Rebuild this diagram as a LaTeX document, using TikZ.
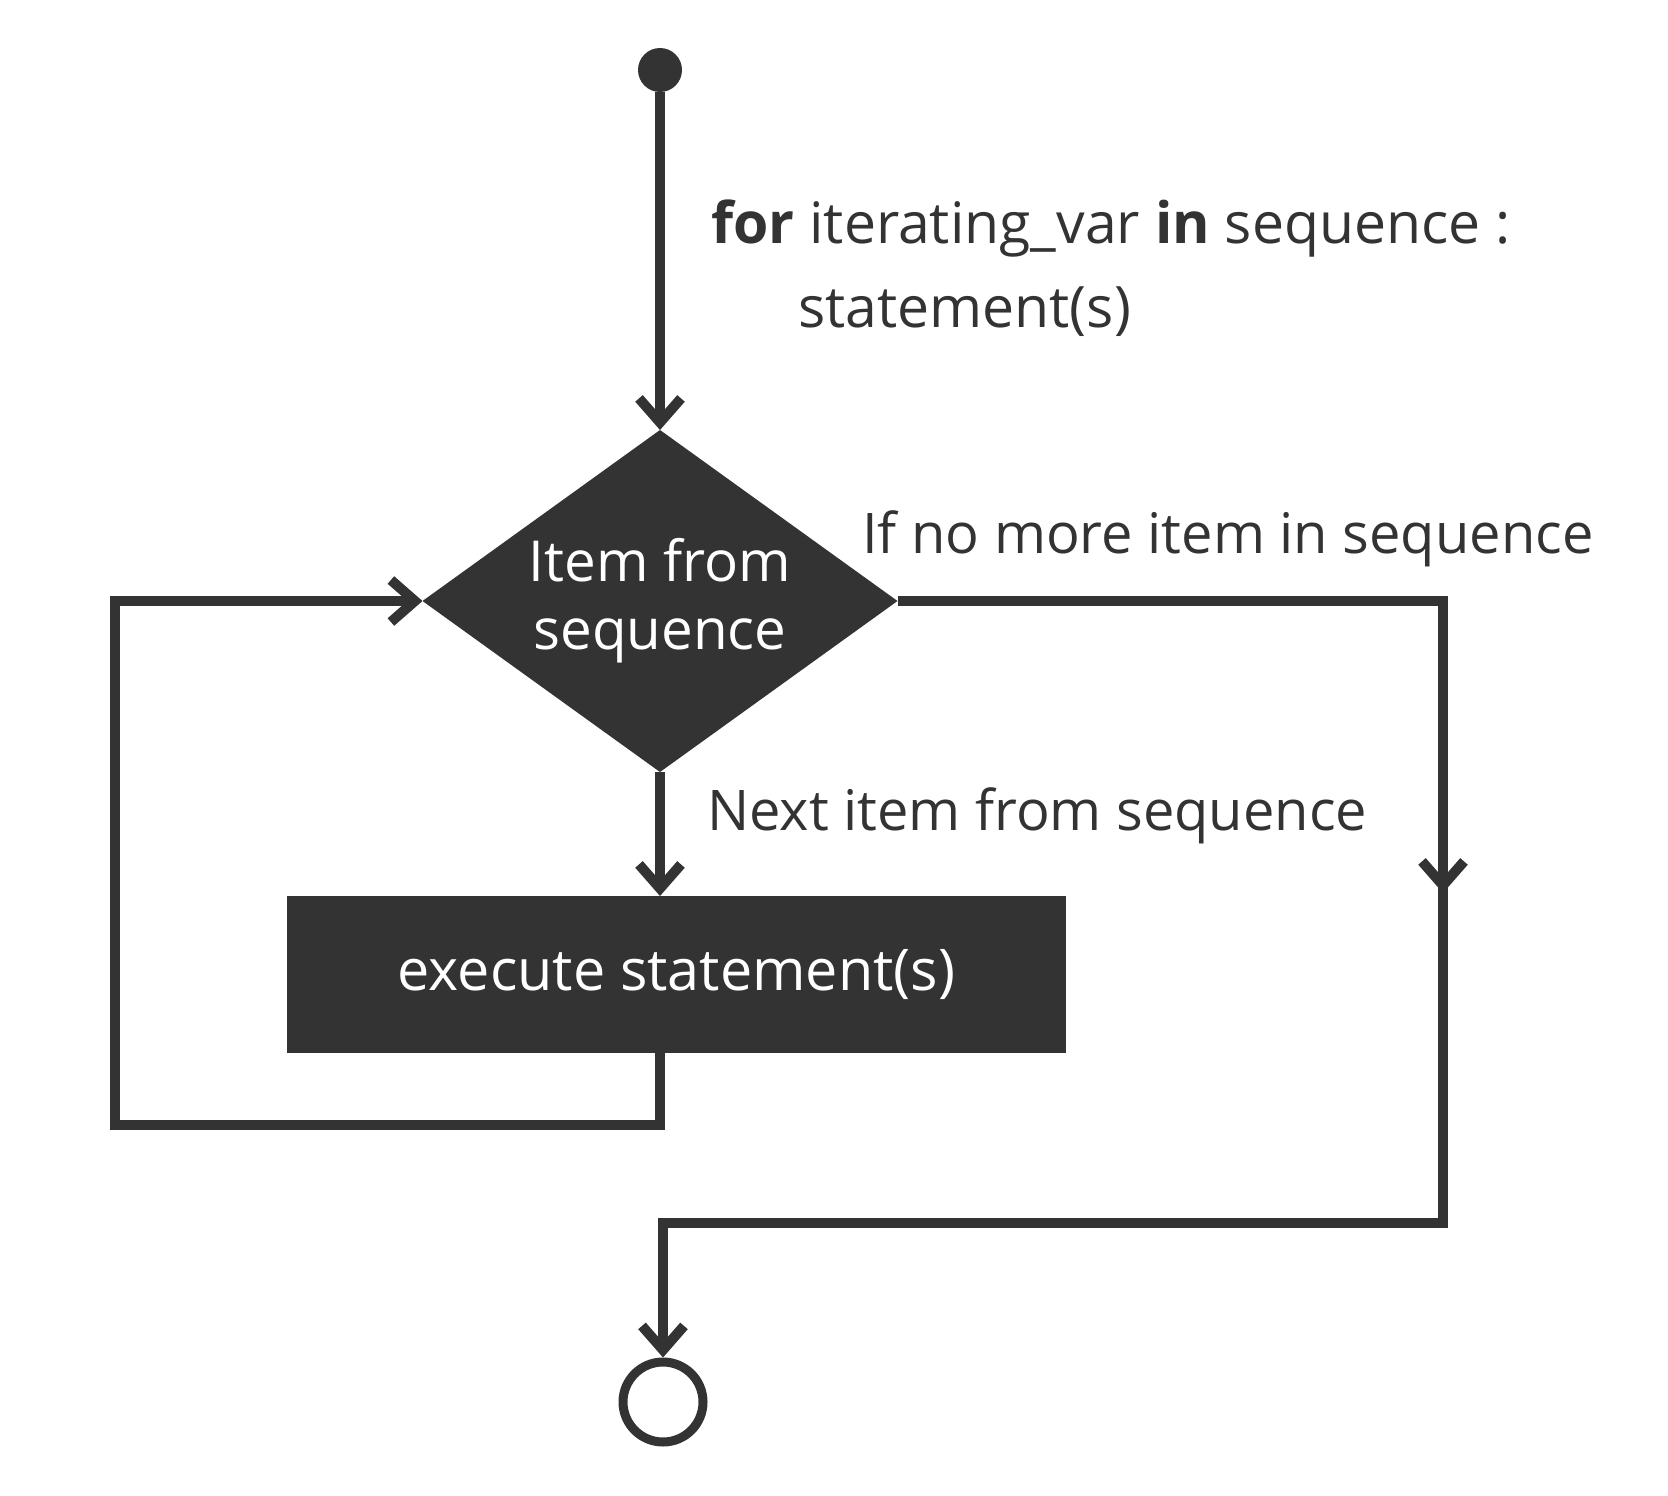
\documentclass[tikz,border=0pt]{standalone}
\usepackage{fontspec}
\setmainfont{Open Sans}
\usetikzlibrary{shapes.geometric,arrows.meta}
\definecolor{ink}{HTML}{333333}
\begin{document}
\begin{tikzpicture}[x=1pt,y=-1pt,
  txt/.style={font=\fontsize{56}{70}\selectfont},
  codetxt/.style={font=\fontsize{57.1}{70}\selectfont},
  flow/.style={draw=ink, line width=10pt, line join=miter,
    -{Straight Barb[length=24pt,width=42pt]}},
  plain/.style={draw=ink, line width=10pt, line join=miter},
  lbl/.style={txt, text=ink, inner sep=0pt, anchor=base west},
  filled/.style={fill=ink, inner sep=0pt, outer sep=0pt},
]
\useasboundingbox (0,0) rectangle (1668,1496);

\node[circle, filled, minimum size=44pt] (start) at (660,70) {};
\node[diamond, filled, aspect=1.39, minimum width=475pt, minimum height=342pt,
      text=white, align=center, font=\fontsize{56.5}{71}\selectfont] (dec) at (660,601) {\raisebox{-3pt}{Item from}\\sequence};
\node[rectangle, filled, minimum width=779pt, minimum height=157pt,
      text=white, font=\fontsize{57.5}{70}\selectfont] (exec) at (676.5,974.5) {execute statement(s)};
\node[circle, draw=ink, line width=9pt, minimum size=80pt, inner sep=0pt] (stop) at (663,1402) {};

\node[lbl, codetxt] (code1) at (711,243) {\textbf{for} iterating\_var \textbf{in} sequence :};
\node[lbl, codetxt] (code2) at (798,327) {statement(s)};
\node[lbl] (nomore) at (862,553) {If no more item in sequence};
\node[lbl] (next) at (707,830) {Next item from sequence};

\coordinate (loopL) at (115,1125);
\coordinate (rmidA) at (1443,850);
\coordinate (rmid) at (1443,893);
\coordinate (rbot) at (1443,1223);

\draw[flow] (start) -- (dec.north);
\draw[flow] (dec.south) -- (dec.south |- exec.north);
\draw[flow] (exec.south -| dec.south) |- (loopL) |- (dec.west);
\draw[flow] (dec.east) -| (rbot) -| (stop.north);
\draw[flow] (rmidA) -- (rmid);
\end{tikzpicture}
\end{document}
